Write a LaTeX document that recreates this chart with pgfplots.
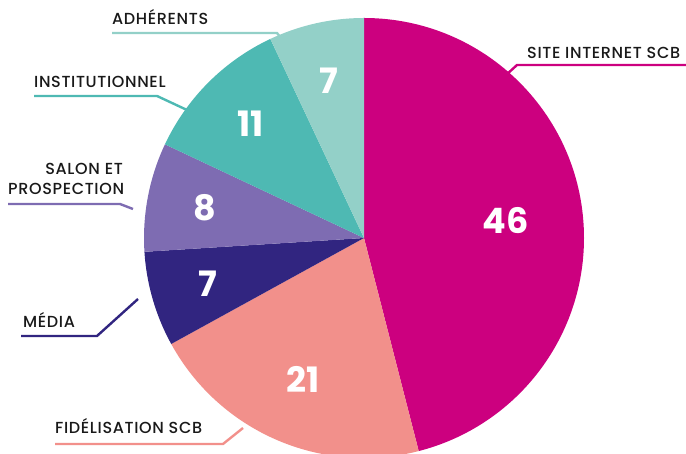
\documentclass[border=0pt]{standalone}
\usepackage{pgfplots}
\pgfplotsset{compat=1.18}
\usepackage{pgfplotstable}
\usetikzlibrary{calc}
\usepackage{fontspec}
\setmainfont{Poppins}
\newfontfamily\lblfont[LetterSpace=4]{Poppins Medium}

\definecolor{c0}{HTML}{CC007F}
\definecolor{c1}{HTML}{F2908B}
\definecolor{c2}{HTML}{312580}
\definecolor{c3}{HTML}{7E6CB2}
\definecolor{c4}{HTML}{4EB9B3}
\definecolor{c5}{HTML}{93D0C8}

% share of each source, clockwise from the top
\pgfplotstableread{
label value lr
Site 46 143
Fidelisation 21 154
Media 7 163
Salon 8 162
Institutionnel 11 161
Adherents 7 161
}\piedata

% start, end and middle angles of the slices
\def\cum{0}
\pgfplotsforeachungrouped \i in {0,...,5}{%
  \pgfplotstablegetelem{\i}{value}\of\piedata
  \let\v\pgfplotsretval
  \pgfmathsetmacro\a{90-3.6*\cum}%
  \pgfmathsetmacro\cum{\cum+\v}%
  \pgfmathsetmacro\b{90-3.6*\cum}%
  \pgfmathsetmacro\m{(\a+\b)/2}%
  \pgfplotstablegetelem{\i}{lr}\of\piedata
  \expandafter\xdef\csname sa\i\endcsname{\a}%
  \expandafter\xdef\csname ea\i\endcsname{\b}%
  \expandafter\xdef\csname ma\i\endcsname{\m}%
  \expandafter\xdef\csname lr\i\endcsname{\pgfplotsretval}%
  \expandafter\xdef\csname val\i\endcsname{\v}%
}

\begin{document}
\begin{tikzpicture}
\begin{axis}[
  name=ax,
  x=1pt, y=1pt,
  xmin=0, xmax=686, ymin=0, ymax=454,
  hide axis, clip=false,
  ]
  \pgfplotsinvokeforeach{0,...,5}{
    \fill[c#1] (axis cs:364,216) -- ++(\csname sa#1\endcsname:220pt)
      arc[start angle=\csname sa#1\endcsname, end angle=\csname ea#1\endcsname, radius=220pt] -- cycle;
    \node[text=white, font=\fontsize{35}{38}\selectfont\bfseries]
      at ($(axis cs:364,216)+(\csname ma#1\endcsname:\csname lr#1\endcsname pt)$) {\csname val#1\endcsname};
  }

  \tikzset{lbl/.style={anchor=base west, inner sep=0pt, text=black!90, font=\lblfont\fontsize{16}{19}\selectfont}}
  % leader lines
  \draw[c0, line width=2.4pt] (axis cs:690,389) -- (axis cs:517,389) -- (axis cs:505,378);
  \draw[c1, line width=2.4pt] (axis cs:55,10) -- (axis cs:223,10) -- (axis cs:243,26);
  \draw[c2, line width=2.4pt] (axis cs:21,118) -- (axis cs:97,118) -- (axis cs:138,155);
  \draw[c3, line width=2.4pt] (axis cs:8,250) -- (axis cs:120,250) -- (axis cs:133,245);
  \draw[c4, line width=2.4pt] (axis cs:34,358) -- (axis cs:157,358) -- (axis cs:187,344);
  \draw[c5, line width=2.4pt] (axis cs:112,421) -- (axis cs:277,421) -- (axis cs:281,416);

  \node[lbl] at (axis cs:527,395) {SITE INTERNET SCB};
  \node[lbl] at (axis cs:55,20) {FIDÉLISATION SCB};
  \node[lbl] at (axis cs:23,126) {MÉDIA};
  \node[lbl, anchor=base east] at (axis cs:123,279) {SALON ET};
  \node[lbl] at (axis cs:8,259) {PROSPECTION};
  \node[lbl] at (axis cs:34,366) {INSTITUTIONNEL};
  \node[lbl] at (axis cs:112,429) {ADHÉRENTS};
\end{axis}
\pgfresetboundingbox
\path[use as bounding box] (ax.south west) rectangle (ax.north east);
\end{tikzpicture}
\end{document}
